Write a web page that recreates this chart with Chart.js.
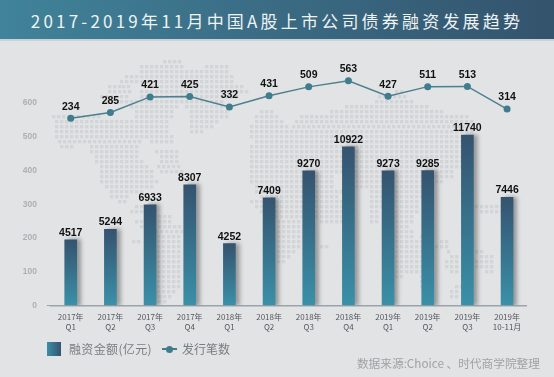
<!DOCTYPE html>
<html>
<head>
<meta charset="utf-8">
<script src="https://cdn.jsdelivr.net/npm/chart.js@4"></script>
<style>
  html, body { margin: 0; padding: 0; background: #e1e3e5; }
  #page { position: relative; width: 554px; height: 377px; overflow: hidden; font-family: "Noto Sans CJK SC", sans-serif; }
  #header { position: absolute; left: 0; top: 0; width: 554px; height: 39px; line-height: 41px; text-align: center; color: #eef3f4; font-size: 17px; font-weight: 400; letter-spacing: 3.2px;
    background: linear-gradient(90deg, #40839a, #34536d); border-bottom: 2px solid #c9d3d7; white-space: nowrap; }
  #chartBox { position: absolute; left: 0; top: 0; width: 554px; height: 377px; }
  .note { position: absolute; white-space: nowrap; }
  #swatch { left: 47px; top: 342px; width: 14px; height: 14px; background: linear-gradient(90deg, #3a8ea6, #35536f); }
  #lgBar { left: 69px; top: 340px; font-size: 12px; line-height: 18px; color: #7a7d80; letter-spacing: 0.35px; }
  #lgLine { left: 182px; top: 340px; font-size: 12px; line-height: 18px; color: #7a7d80; }
  #lgDash { left: 162px; top: 348px; width: 15px; height: 2px; background: #3f7d8e; }
  #lgDot { left: 166px; top: 346px; width: 7px; height: 7px; border-radius: 50%; background: #3f7d8e; }
  #source { right: 14px; top: 354px; font-size: 11.7px; line-height: 18px; color: #a0a2a4; }
</style>
</head>
<body>
<div id="page">
  <div id="chartBox"><canvas id="financeChart" width="554" height="377"></canvas></div>
  <div id="header">2017-2019年11月中国A股上市公司债券融资发展趋势</div>
  <div class="note" id="swatch"></div>
  <div class="note" id="lgBar">融资金额(亿元)</div>
  <div class="note" id="lgDash"></div>
  <div class="note" id="lgDot"></div>
  <div class="note" id="lgLine">发行笔数</div>
  <div class="note" id="source">数据来源:Choice 、时代商学院整理</div>
</div>
<script>
const quarters = [
  ["2017年", "Q1"], ["2017年", "Q2"], ["2017年", "Q3"], ["2017年", "Q4"],
  ["2018年", "Q1"], ["2018年", "Q2"], ["2018年", "Q3"], ["2018年", "Q4"],
  ["2019年", "Q1"], ["2019年", "Q2"], ["2019年", "Q3"], ["2019年", "10-11月"],
];
const amounts = [4517, 5244, 6933, 8307, 4252, 7409, 9270, 10922, 9273, 9285, 11740, 7446];
const issues = [234, 285, 421, 425, 332, 431, 509, 563, 427, 511, 513, 314];
const yTickLabels = [0, 100, 200, 300, 400, 500, 600];

// background dot map: [y, x1, x2, x1, x2...] in page pixels, decoration only
const mapRows = [
  [60, 163, 180], [65, 140, 180, 205, 225], [70, 140, 228], [75, 125, 135, 140, 232],
  [80, 120, 135, 140, 232], [85, 108, 118, 122, 130, 150, 240], [90, 108, 130, 140, 245, 395, 400],
  [95, 100, 115, 120, 128, 140, 235, 378, 405], [100, 105, 125, 130, 220, 375, 410],
  [105, 130, 175, 185, 220, 345, 425], [110, 135, 170, 190, 225, 260, 270, 330, 440],
  [115, 52, 100, 135, 170, 190, 225, 255, 275, 300, 465], [120, 55, 165, 190, 215, 255, 280, 295, 470],
  [125, 55, 165, 190, 210, 250, 285, 292, 470], [130, 55, 165, 190, 200, 250, 470],
  [135, 55, 150, 155, 170, 250, 470], [140, 58, 140, 150, 170, 255, 470], [145, 60, 70, 90, 135, 250, 470],
  [150, 90, 135, 155, 175, 250, 470], [155, 95, 135, 160, 175, 250, 465], [160, 95, 140, 160, 175, 250, 465],
  [165, 100, 145, 157, 180, 250, 460], [170, 100, 150, 160, 180, 250, 300, 305, 450], [175, 100, 150, 250, 330, 345, 450],
  [180, 100, 155, 250, 330, 345, 440], [185, 105, 150, 255, 330, 350, 430], [190, 110, 125, 130, 140, 255, 340, 370, 425],
  [195, 110, 125, 260, 335, 370, 420], [200, 118, 125, 250, 340, 370, 415], [205, 135, 145, 255, 345, 370, 380, 395, 415, 465, 500],
  [210, 130, 145, 260, 345, 370, 375, 395, 415, 480, 500], [215, 158, 172, 265, 345, 370, 375, 395, 410],
  [220, 135, 142, 158, 168, 277, 310, 320, 340, 370, 375, 395, 410], [225, 140, 150, 158, 178, 277, 315, 395, 405],
  [230, 155, 180, 277, 315, 395, 412], [235, 157, 180, 277, 315, 395, 410, 420, 430], [240, 132, 137, 157, 180, 277, 315, 395, 420, 440, 445],
  [245, 157, 180, 277, 300, 320, 325, 395, 420, 435, 445], [250, 157, 180, 277, 295, 395, 420, 447, 450, 475, 480],
  [255, 157, 180, 277, 290, 395, 425, 450, 455, 480, 490], [260, 157, 180, 277, 285, 395, 425, 445, 457, 470, 490],
  [265, 157, 180, 395, 425, 445, 457, 470, 490], [270, 157, 180, 395, 425, 450, 457, 485, 490],
  [275, 157, 178, 395, 400, 420, 425], [280, 157, 178, 420, 425], [285, 157, 178, 420, 425, 455, 460],
  [290, 157, 175, 450, 458], [295, 158, 168, 450, 455], [300, 158, 165],
];

const mapPlugin = {
  id: "dotMap",
  beforeDraw(chart) {
    const ctx = chart.ctx;
    ctx.save();
    ctx.fillStyle = "#d2d4d6";
    mapRows.forEach((row) => {
      for (let i = 1; i < row.length; i += 2) {
        for (let x = row[i]; x <= row[i + 1]; x += 5) {
          ctx.fillRect(x, row[0], 3.3, 3.3);
        }
      }
    });
    ctx.restore();
  },
};

// soft shadow on the right side of the bars
const barShadow = {
  id: "barShadow",
  beforeDatasetDraw(chart, args) {
    if (args.index !== 1) return;
    chart.ctx.save();
    chart.ctx.shadowColor = "rgba(60,60,60,0.45)";
    chart.ctx.shadowOffsetX = 4;
    chart.ctx.shadowBlur = 4;
  },
  afterDatasetDraw(chart, args) {
    if (args.index === 1) chart.ctx.restore();
  },
};

// value labels above bars and points
const valueLabels = {
  id: "valueLabels",
  afterDatasetsDraw(chart) {
    const ctx = chart.ctx;
    ctx.save();
    ctx.font = "bold 10.5px 'Liberation Sans'";
    ctx.fillStyle = "#111";
    ctx.textAlign = "center";
    ctx.textBaseline = "middle";
    chart.getDatasetMeta(1).data.forEach((el, i) => ctx.fillText(amounts[i], el.x, el.y - 7));
    chart.getDatasetMeta(0).data.forEach((el, i) => ctx.fillText(issues[i], el.x, el.y - 11.5));
    ctx.restore();
  },
};

const ctx = document.getElementById("financeChart").getContext("2d");
const financeChart = new Chart(ctx, {
  type: "bar",
  data: {
    labels: quarters,
    datasets: [
      {
        type: "line",
        label: "发行笔数",
        data: issues,
        yAxisID: "yLine",
        borderColor: "#4d7f8e",
        borderWidth: 1.5,
        pointRadius: 3.5,
        pointBackgroundColor: "#3f7d8e",
        pointBorderWidth: 0,
        tension: 0,
        order: 0,
      },
      {
        label: "融资金额(亿元)",
        data: amounts,
        yAxisID: "yBar",
        barThickness: 12,
        order: 1,
        backgroundColor(c) {
          const area = c.chart.chartArea;
          if (!area) return "#35536f";
          const scale = c.chart.scales.yBar;
          const grad = c.chart.ctx.createLinearGradient(0, scale.getPixelForValue(c.raw), 0, scale.getPixelForValue(0));
          grad.addColorStop(0, "#35536f");
          grad.addColorStop(1, "#3a90a8");
          return grad;
        },
      },
    ],
  },
  options: {
    responsive: false,
    animation: false,
    layout: { padding: { top: 69.3, right: 27.1, left: 0, bottom: 0 } },
    plugins: { legend: { display: false }, tooltip: { enabled: false } },
    scales: {
      x: {
        grid: { display: false },
        border: { color: "#9aa3a7", width: 1.5 },
        ticks: { color: "#55585b", font: { size: 8, family: "'Noto Sans CJK SC'", lineHeight: 1.3 }, padding: -2, maxRotation: 0, autoSkip: false },
        afterFit(scale) { scale.height = 71.7; },
      },
      y: {
        position: "left",
        min: 0,
        max: 700,
        border: { display: false },
        grid: {
          drawOnChartArea: false,
          tickLength: 4,
          tickColor(c) { return c.tick.value === 0 ? "#9aa3a7" : "rgba(0,0,0,0)"; },
        },
        afterBuildTicks(scale) { scale.ticks = yTickLabels.map((v) => ({ value: v })); },
        ticks: { color: "#adb0b2", font: { size: 8.5, weight: "bold", family: "'Liberation Sans'" }, padding: 10 },
        afterFit(scale) { scale.width = 50.9; },
      },
      // hidden scales: picked so bars and line sit where they do against the 0-600 axis
      yBar: { display: false, min: 0, max: 16270 },
      yLine: { display: false, min: -1406, max: 663 },
    },
  },
  plugins: [mapPlugin, barShadow, valueLabels],
});
</script>
</body>
</html>
